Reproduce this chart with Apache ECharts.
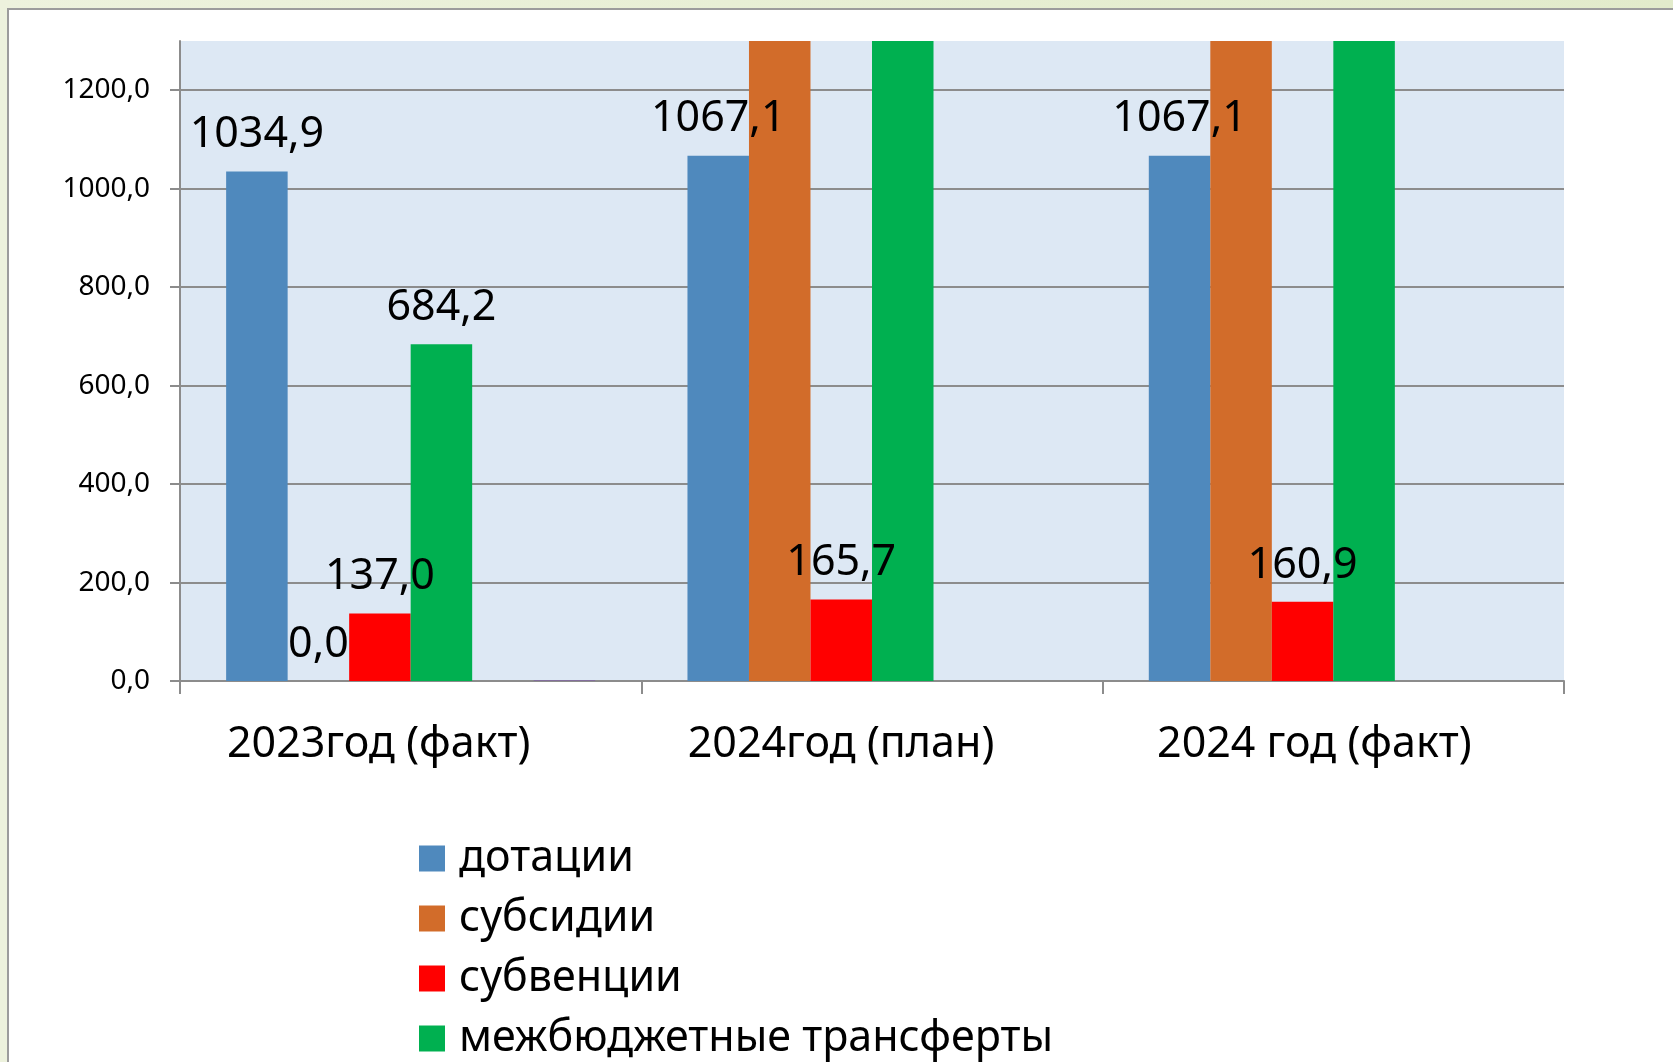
<!DOCTYPE html>
<html>
<head>
<meta charset="utf-8">
<script src="https://cdn.jsdelivr.net/npm/echarts@6/dist/echarts.min.js"></script>
<style>
  html, body { margin: 0; padding: 0; }
  body {
    width: 1673px; height: 1062px; overflow: hidden; position: relative;
    background: linear-gradient(90deg, #edf2dd 0%, #e6eed2 60%, #e2ebcb 100%);
  }
  .panel {
    position: absolute; left: 7px; top: 8px; width: 1680px; height: 1070px;
    background: #ffffff; border: 2px solid #9c9c9c; box-sizing: border-box;
  }
  #chart { position: absolute; left: 0; top: 0; width: 1673px; height: 1062px; }
</style>
</head>
<body>
<div class="panel"></div>
<div id="chart"></div>
<script>
const categories = ['2023год (факт)', '2024год (план)', '2024 год (факт)']
const dotacii = [1034.9, 1067.1, 1067.1]
const subsidii = [0.0, 1520.0, 1540.0]
const subvencii = [137.0, 165.7, 160.9]
const transferty = [684.2, 1600.0, 1610.0]
const empty = [null, null, null]
const other = [1.5, null, null]
const yMax = 1300

const chart = echarts.init(document.getElementById('chart'))

const fmt = v => v.toFixed(1).replace('.', ',')

function barData(values) {
  // labels of bars that run off the top of the plot are not visible
  return values.map(v => v === null ? null : {
    value: v,
    label: { show: v <= yMax }
  })
}

const labelStyle = {
  show: true,
  position: 'top',
  distance: 15,
  fontFamily: 'Noto Sans',
  fontSize: 43,
  color: '#000',
  formatter: p => fmt(p.value)
}

function bar(name, color, values, withLabel) {
  return {
    name: name,
    type: 'bar',
    barGap: 0,
    barCategoryGap: '20%',
    itemStyle: { color: color },
    label: withLabel ? labelStyle : { show: false },
    data: withLabel ? barData(values) : values
  }
}

// category captions sit a little left of the category centre in the original
const labelShift = [64, 62, 38]

const option = {
  animation: false,
  textStyle: { fontFamily: 'Noto Sans' },
  grid: {
    left: 180,
    right: 109,
    top: 41,
    bottom: 381,
    show: true,
    backgroundColor: '#dde8f4',
    borderWidth: 0
  },
  legend: {
    orient: 'vertical',
    left: 419,
    bottom: 2,
    padding: 0,
    itemWidth: 26,
    itemHeight: 26,
    itemGap: 17,
    icon: 'rect',
    data: ['дотации', 'субсидии', 'субвенции', 'межбюджетные трансферты'],
    textStyle: { fontFamily: 'Noto Sans', fontSize: 43, color: '#000', lineHeight: 40, padding: [0, 0, 0, 9] }
  },
  xAxis: {
    type: 'category',
    data: categories.map((c, i) => ({
      value: c,
      textStyle: { padding: [0, labelShift[i], 0, 0] }
    })),
    axisLine: { lineStyle: { color: '#8c8c8c', width: 2 } },
    axisTick: { show: true, length: 13, lineStyle: { color: '#8c8c8c', width: 2 } },
    axisLabel: { margin: 42, fontFamily: 'Noto Sans', fontSize: 43, color: '#000' }
  },
  yAxis: {
    type: 'value',
    min: 0,
    max: yMax,
    interval: 200,
    axisLine: { show: true, lineStyle: { color: '#8c8c8c', width: 2 } },
    axisTick: { show: true, length: 10, lineStyle: { color: '#8c8c8c', width: 2 } },
    axisLabel: {
      margin: 30,
      showMaxLabel: false,
      fontFamily: 'Noto Sans',
      fontSize: 28,
      color: '#000',
      formatter: v => v % 200 === 0 ? fmt(v) : ''
    },
    splitLine: { show: true, showMaxLine: false, lineStyle: { color: '#8c8c8c', width: 2 } }
  },
  series: [
    bar('дотации', '#4f89bd', dotacii, true),
    bar('субсидии', '#d26c2a', subsidii, true),
    bar('субвенции', '#ff0000', subvencii, true),
    bar('межбюджетные трансферты', '#00b050', transferty, true),
    bar('—', '#9bbb59', empty, false),
    bar('прочие', '#8064a2', other, false)
  ]
}

chart.setOption(option, true)
window.addEventListener('resize', () => {
  chart.resize()
})
</script>
</body>
</html>
